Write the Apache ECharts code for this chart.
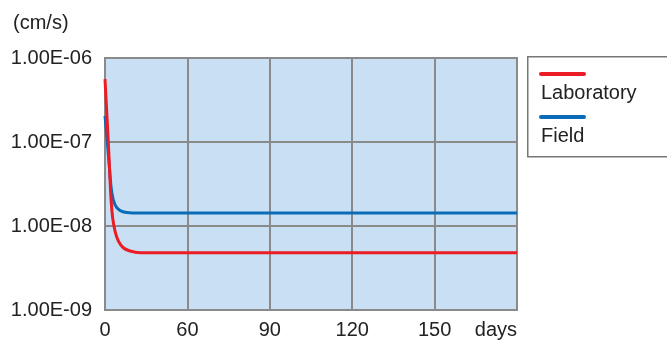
<!DOCTYPE html>
<html><head><meta charset="utf-8">
<script src="https://cdn.jsdelivr.net/npm/echarts@6/dist/echarts.min.js"></script>
<style>html,body{margin:0;padding:0;background:#fff}#c{width:667px;height:340px}</style>
</head><body><div id="c"></div>
<script>
const seriesNames = ['Laboratory', 'Field'];
const xTickLabels = ['0', '60', '90', '120', '150', 'days'];
const yTickLabels = ['1.00E-09', '1.00E-08', '1.00E-07', '1.00E-06'];
const unitLabel = '(cm/s)';
const labDays = [0, 1.2, 1.82, 2.18, 2.8, 3.64, 4.84, 6.66, 9.1, 12.74, 150];
const labValues = [5.6e-7, 1.0e-7, 3.67e-8, 2.13e-8, 1.24e-8, 8.73e-9, 6.66e-9, 5.51e-9, 5.04e-9, 4.81e-9, 4.8e-9];
const fieldDays = [0, 0.84, 1.64, 2.44, 3.64, 5.46, 7.9, 12.74, 150];
const fieldValues = [2.04e-7, 1.0e-7, 4.81e-8, 2.56e-8, 1.78e-8, 1.53e-8, 1.45e-8, 1.43e-8, 1.43e-8];

const colors = ['#ec1c24', '#0a6cb8'];
const font = 'Liberation Sans, Arial, sans-serif';
const chart = echarts.init(document.getElementById('c'));
const pairs = (xs, ys) => xs.map((x, i) => [x, ys[i]]);
chart.setOption({
  animation: false,
  title: { text: unitLabel, left: 8, top: 8, textStyle: { fontFamily: font, fontSize: 20, fontWeight: 'normal', color: '#222' } },
  grid: { left: 105, right: 150, top: 58, bottom: 27, show: true, backgroundColor: '#c9dff3', borderColor: '#8a8a8a', borderWidth: 2 },
  xAxis: {
    type: 'value', min: 0, max: 150, interval: 30,
    axisLine: { show: false }, axisTick: { show: false },
    splitLine: { show: true, lineStyle: { color: '#8a8a8a', width: 2 } },
    axisLabel: { fontFamily: font, fontSize: 20, color: '#222', margin: 10, alignMaxLabel: 'right',
      formatter: v => xTickLabels[Math.round(v / 30)] }
  },
  yAxis: {
    type: 'log', logBase: 10, min: 1e-9, max: 1e-6,
    axisLine: { show: false }, axisTick: { show: false },
    splitLine: { show: true, lineStyle: { color: '#8a8a8a', width: 2 } },
    minorSplitLine: { show: false },
    axisLabel: { fontFamily: font, fontSize: 20, color: '#222', margin: 13,
      formatter: v => yTickLabels[Math.round(Math.log10(v) + 9)] }
  },
  series: [
    { name: seriesNames[0], type: 'line', data: pairs(labDays, labValues), showSymbol: false, smooth: 0.4,
      lineStyle: { color: colors[0], width: 3 }, z: 3 },
    { name: seriesNames[1], type: 'line', data: pairs(fieldDays, fieldValues), showSymbol: false, smooth: 0.4,
      lineStyle: { color: colors[1], width: 3 }, z: 2 }
  ],
  graphic: [
    { type: 'rect', left: 527, top: 56, shape: { width: 160, height: 100 }, style: { fill: '#fff', stroke: '#777', lineWidth: 1.5 } },
    { type: 'line', shape: { x1: 541, y1: 74, x2: 584, y2: 74 }, style: { stroke: colors[0], lineWidth: 4, lineCap: 'round' } },
    { type: 'text', left: 541, top: 83, style: { text: seriesNames[0], font: '20px ' + font, fill: '#222' } },
    { type: 'line', shape: { x1: 541, y1: 117, x2: 584, y2: 117 }, style: { stroke: colors[1], lineWidth: 4, lineCap: 'round' } },
    { type: 'text', left: 541, top: 126, style: { text: seriesNames[1], font: '20px ' + font, fill: '#222' } }
  ]
});
</script></body></html>
